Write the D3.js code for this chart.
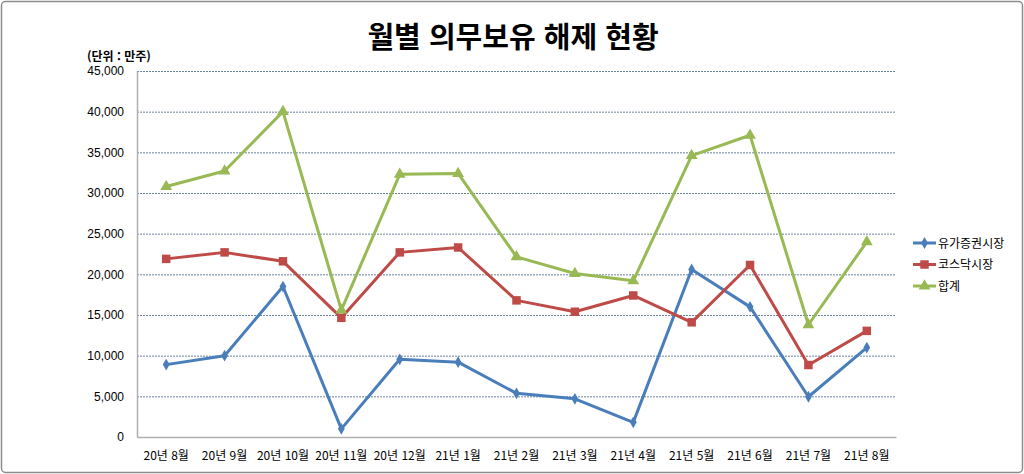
<!DOCTYPE html>
<html lang="ko">
<head>
<meta charset="UTF-8">
<title>월별 의무보유 해제 현황</title>
<script src="https://cdn.jsdelivr.net/npm/d3@7"></script>
<style>
    body { margin: 0; background: #fff; }
    svg text { font-family: "Noto Sans CJK KR", "Noto Sans", sans-serif; }
</style>
</head>
<body>
<svg id="chart" width="1024" height="474"></svg>
<script>
    // months on the x axis
    var months = ["20년 8월", "20년 9월", "20년 10월", "20년 11월", "20년 12월", "21년 1월",
        "21년 2월", "21년 3월", "21년 4월", "21년 5월", "21년 6월", "21년 7월", "21년 8월"];
    // series (만주)
    var kospi = [8900, 10000, 18500, 1000, 9550, 9200, 5370, 4700, 1800, 20600, 16000, 4950, 11000];
    var kosdaq = [21900, 22700, 21600, 14650, 22700, 23300, 16800, 15400, 17400, 14100, 21150, 8850, 13050];
    var total = [30800, 32700, 40000, 15600, 32300, 32400, 22150, 20100, 19200, 34600, 37100, 13800, 24000];
    var yTicks = [0, 5000, 10000, 15000, 20000, 25000, 30000, 35000, 40000, 45000];

    var series = [
        { name: "유가증권시장", values: kospi, color: "#4a7ebb", marker: "diamond" },
        { name: "코스닥시장", values: kosdaq, color: "#be4b48", marker: "square" },
        { name: "합계", values: total, color: "#98b954", marker: "triangle" }
    ];

    var svg = d3.select("#chart");
    var plot = { left: 137, right: 896, top: 71, bottom: 437 };

    // outer frame
    svg.append("rect")
        .attr("x", 1.5).attr("y", 1.5)
        .attr("width", 1021).attr("height", 471)
        .attr("rx", 4)
        .attr("fill", "#fff")
        .attr("stroke", "#8c8c8c")
        .attr("stroke-width", 1.5);

    var x = d3.scaleBand().domain(months).range([plot.left, plot.right]);
    var y = d3.scaleLinear().domain([0, 45000]).range([plot.bottom, plot.top]);

    // title
    svg.append("text")
        .attr("x", 513).attr("y", 48)
        .attr("text-anchor", "middle")
        .style("font-size", "29px").style("font-weight", "bold")
        .text("월별 의무보유 해제 현황");

    svg.append("text")
        .attr("x", 87).attr("y", 61)
        .style("font-size", "12px").style("font-weight", "bold")
        .text("(단위 : 만주)");

    // gridlines
    svg.append("g").selectAll("line")
        .data(yTicks.filter(function(d) { return d > 0; }))
        .enter().append("line")
        .attr("x1", plot.left).attr("x2", plot.right)
        .attr("y1", function(d) { return y(d) + 0.5; })
        .attr("y2", function(d) { return y(d) + 0.5; })
        .attr("stroke", "#6a849e")
        .attr("stroke-width", 1)
        .attr("stroke-dasharray", "2,1");

    // y axis
    var yAxis = svg.append("g")
        .attr("transform", "translate(" + plot.left + ",0)")
        .call(d3.axisLeft(y).tickValues(yTicks).tickSize(0).tickPadding(13)
            .tickFormat(d3.format(",")));
    yAxis.select(".domain").attr("stroke", "#b0b0b0").attr("stroke-width", 1.5);
    yAxis.selectAll("text").style("font-size", "12px")
        .style("font-family", "'Liberation Sans', 'Noto Sans', sans-serif").attr("fill", "#000");

    // x axis
    var xAxis = svg.append("g")
        .attr("transform", "translate(0," + plot.bottom + ")")
        .call(d3.axisBottom(x).tickSize(0).tickPadding(14));
    xAxis.select(".domain").attr("stroke", "#b0b0b0").attr("stroke-width", 1.5);
    xAxis.selectAll("text").style("font-size", "12px").attr("fill", "#000");

    var line = d3.line()
        .x(function(d, i) { return x(months[i]) + x.bandwidth() / 2; })
        .y(function(d) { return y(d); });

    function markerPath(type) {
        if (type === "diamond") return d3.symbol().type(d3.symbolDiamond).size(40)();
        if (type === "square") return d3.symbol().type(d3.symbolSquare).size(72)();
        return d3.symbol().type(d3.symbolTriangle).size(60)();
    }

    series.forEach(function(s) {
        var g = svg.append("g");
        g.append("path")
            .datum(s.values)
            .attr("d", line)
            .attr("fill", "none")
            .attr("stroke", s.color)
            .attr("stroke-width", 3)
            .attr("stroke-linejoin", "round");
        g.selectAll("path.pt")
            .data(s.values)
            .enter().append("path")
            .attr("class", "pt")
            .attr("d", markerPath(s.marker))
            .attr("transform", function(d, i) {
                return "translate(" + (x(months[i]) + x.bandwidth() / 2) + "," + y(d) + ")";
            })
            .attr("fill", s.color);
    });

    // legend
    var legend = svg.append("g");
    series.forEach(function(s, i) {
        var ly = 243 + i * 21.5;
        legend.append("line")
            .attr("x1", 913).attr("x2", 936)
            .attr("y1", ly).attr("y2", ly)
            .attr("stroke", s.color).attr("stroke-width", 3);
        legend.append("path")
            .attr("d", markerPath(s.marker))
            .attr("transform", "translate(924.5," + ly + ")")
            .attr("fill", s.color);
        legend.append("text")
            .attr("x", 938).attr("y", ly + 4.5)
            .style("font-size", "12px")
            .text(s.name);
    });
</script>
</body>
</html>
